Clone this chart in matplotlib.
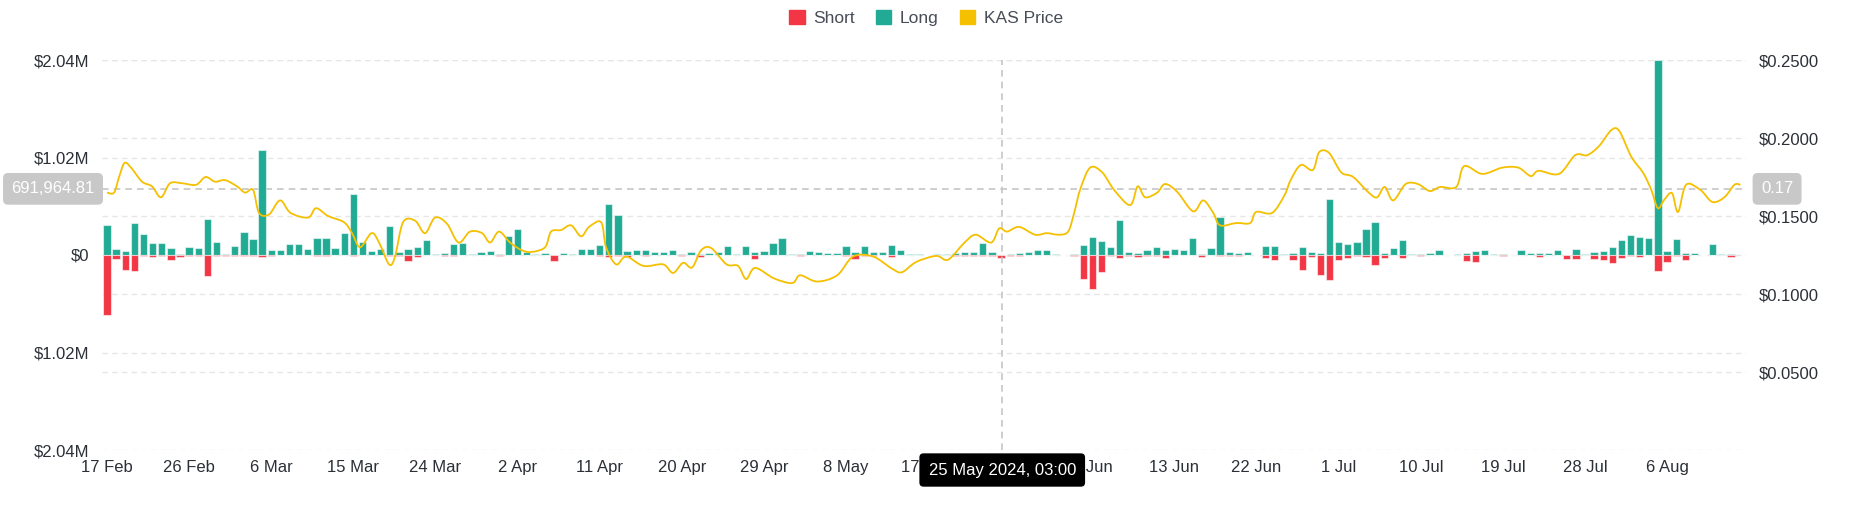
import numpy as np
import pandas as pd
import matplotlib
matplotlib.use('Agg')
import matplotlib.pyplot as plt
import matplotlib.dates as mdates
from matplotlib.patches import Patch, PathPatch
from matplotlib.path import Path
from matplotlib.transforms import blended_transform_factory

plt.rcParams['font.family'] = ['Liberation Sans', 'DejaVu Sans']

"Daily liquidations, in $k, starting 17 Feb 2024"
start = pd.Timestamp('2024-02-17')
long_k = [319, 62, 45, 333, 215, 125, 125, 69, 10, 83, 73, 378, 132, 10, 90, 236, 163, 1103, 52, 55,
          114, 111, 62, 180, 177, 73, 229, 642, 135, 45, 59, 302, 35, 66, 80, 153, 7, 21, 118, 128,
          10, 28, 38, 7, 194, 271, 35, 10, 17, 3, 17, 10, 62, 66, 108, 538, 423, 42, 52, 49,
          31, 31, 55, 10, 31, 10, 21, 28, 90, 7, 90, 31, 42, 128, 173, 10, 10, 38, 35, 21,
          24, 94, 28, 90, 28, 31, 100, 52, 14, 14, 3, 7, 14, 21, 28, 28, 125, 35, 3, 7,
          17, 31, 49, 55, 10, 0, 10, 104, 191, 146, 83, 371, 35, 21, 49, 83, 49, 66, 49, 180,
          10, 73, 399, 28, 21, 28, 3, 94, 94, 10, 21, 83, 31, 24, 583, 132, 111, 139, 274, 347,
          17, 73, 153, 7, 14, 21, 49, 0, 14, 24, 38, 49, 10, 10, 3, 52, 21, 21, 21, 52,
          0, 59, 7, 28, 42, 87, 153, 212, 191, 180, 2040, 42, 167, 21, 17, 3, 111, 10, 10]
short_k = [624, 42, 160, 170, 14, 24, 13, 49, 21, 14, 14, 222, 7, 10, 7, 7, 10, 21, 10, 4,
           4, 4, 4, 10, 10, 4, 4, 10, 4, 4, 4, 10, 14, 59, 21, 4, 4, 10, 10, 4,
           4, 4, 4, 10, 4, 4, 4, 4, 4, 59, 4, 4, 4, 4, 10, 17, 10, 17, 4, 10,
           4, 4, 4, 14, 4, 17, 4, 4, 4, 4, 4, 38, 4, 4, 4, 4, 10, 4, 4, 4,
           4, 14, 38, 14, 10, 4, 21, 4, 4, 4, 0, 0, 4, 14, 14, 14, 10, 7, 28, 14,
           7, 4, 4, 4, 4, 0, 14, 253, 357, 180, 14, 28, 10, 21, 10, 10, 28, 4, 4, 4,
           17, 4, 14, 14, 7, 4, 3, 31, 49, 4, 49, 160, 24, 205, 260, 49, 28, 10, 21, 104,
           35, 4, 35, 4, 10, 4, 4, 0, 4, 59, 69, 4, 4, 10, 3, 4, 4, 17, 4, 4,
           42, 45, 4, 42, 49, 87, 35, 10, 24, 4, 163, 73, 10, 49, 4, 3, 4, 4, 17]

"KAS price, time in days after 17 Feb 00:00"
price_day = [0.0, 0.77, 1.32, 1.92, 2.63, 3.84, 4.93, 5.92, 6.91, 8.22, 9.76, 10.8, 11.84, 12.94,
             14.25, 15.13, 16.01, 16.66, 17.76, 18.97, 20.12, 22.04, 22.91, 24.23, 25.98, 26.86,
             27.74, 29.0, 29.82, 30.92, 31.57, 32.45, 33.77, 34.86, 35.96, 37.27, 38.53, 39.79,
             41.11, 41.99, 42.97, 44.18, 45.49, 46.59, 48.02, 48.67, 49.77, 50.87, 51.96, 52.84,
             54.16, 54.7, 55.8, 56.9, 58.81, 60.95, 62.05, 63.14, 64.13, 65.12, 66.21, 67.91,
             69.17, 70.05, 71.04, 73.12, 75.1, 75.97, 77.83, 80.03, 81.78, 83.97, 86.11, 87.15,
             88.69, 90.88, 92.19, 93.95, 95.21, 96.91, 97.79, 98.66, 99.98, 101.73, 103.0, 104.31,
             105.35, 106.01, 106.67, 107.76, 109.08, 110.39, 112.15, 112.97, 113.79, 115.11,
             115.98, 117.3, 119.05, 120.15, 121.25, 122.01, 123.77, 125.3, 125.96, 127.71,
             129.08, 129.74, 130.85, 132.17, 132.87, 133.96, 135.28, 136.59, 138.35, 139.22,
             140.05, 140.98, 142.35, 143.68, 145.0, 146.13, 147.89, 148.76, 150.74, 152.93,
             154.69, 156.06, 156.93, 159.15, 160.93, 162.25, 163.57, 164.88, 165.76, 167.08,
             168.39, 169.27, 169.98, 170.64, 171.53, 172.2, 173.08, 174.65, 175.97, 177.28,
             178.38, 179.04]
price = [0.165, 0.165, 0.175, 0.184, 0.181, 0.172, 0.169, 0.162, 0.171, 0.171, 0.170, 0.175, 0.172,
         0.173, 0.169, 0.165, 0.1667, 0.152, 0.151, 0.160, 0.152, 0.149, 0.155, 0.150, 0.146, 0.139,
         0.130, 0.139, 0.133, 0.119, 0.124, 0.146, 0.147, 0.139, 0.149, 0.145, 0.133, 0.140, 0.139,
         0.133, 0.140, 0.133, 0.128, 0.127, 0.130, 0.140, 0.141, 0.144, 0.137, 0.143, 0.146, 0.130,
         0.119, 0.124, 0.118, 0.119, 0.1135, 0.120, 0.117, 0.128, 0.1295, 0.119, 0.118, 0.1096,
         0.1167, 0.110, 0.107, 0.112, 0.108, 0.112, 0.124, 0.124, 0.116, 0.114, 0.1205, 0.1244,
         0.122, 0.1327, 0.138, 0.133, 0.142, 0.140, 0.143, 0.138, 0.139, 0.138, 0.140, 0.152, 0.167,
         0.181, 0.178, 0.1667, 0.157, 0.169, 0.162, 0.165, 0.1705, 0.1655, 0.153, 0.160, 0.152,
         0.144, 0.1455, 0.1455, 0.1526, 0.152, 0.1635, 0.173, 0.1827, 0.1795, 0.191, 0.1904, 0.178,
         0.175, 0.1647, 0.162, 0.1686, 0.160, 0.1705, 0.1705, 0.166, 0.1686, 0.1686, 0.182, 0.177,
         0.181, 0.181, 0.1756, 0.179, 0.177, 0.189, 0.189, 0.195, 0.205, 0.2045, 0.188, 0.1775,
         0.1667, 0.155, 0.160, 0.1647, 0.1526, 0.170, 0.1667, 0.159, 0.162, 0.170, 0.170]

tick_labels = ['17 Feb', '26 Feb', '6 Mar', '15 Mar', '24 Mar', '2 Apr', '11 Apr', '20 Apr',
               '29 Apr', '8 May', '17 May', '26 May', '4 Jun', '13 Jun', '22 Jun', '1 Jul',
               '10 Jul', '19 Jul', '28 Jul', '6 Aug']
left_ticks = [-2.04e6, -1.02e6, 0, 1.02e6, 2.04e6]
left_labels = ['$2.04M', '$1.02M', '$0', '$1.02M', '$2.04M']
right_ticks = [0.05, 0.10, 0.15, 0.20, 0.25]
right_labels = ['$0.0500', '$0.1000', '$0.1500', '$0.2000', '$0.2500']

cross_time = pd.Timestamp('2024-05-25 03:00')
cross_left = 691964.81
cross_right = '0.17'

RED = '#F23645'
TEAL = '#22AB94'
GOLD = '#F5C000'
GRID = '#e6e6e6'
TXT = '#2b2f36'


def smooth_path(x, y, t=1 / 6.0):
    "Catmull-Rom curve through the points, as cubic Bezier segments"
    x = np.asarray(x, float)
    y = np.asarray(y, float)
    verts = [(x[0], y[0])]
    codes = [Path.MOVETO]
    n = len(x)
    for i in range(n - 1):
        i0, i2, i3 = max(i - 1, 0), i + 1, min(i + 2, n - 1)
        c1 = (x[i] + (x[i2] - x[i0]) * t, y[i] + (y[i2] - y[i0]) * t)
        c2 = (x[i2] - (x[i3] - x[i]) * t, y[i2] - (y[i3] - y[i]) * t)
        verts += [c1, c2, (x[i2], y[i2])]
        codes += [Path.CURVE4] * 3
    return Path(verts, codes)


dates = pd.date_range(start, periods=len(long_k), freq='D')
longs = np.array(long_k) * 1000.0
shorts = -np.array(short_k) * 1000.0
ptimes = start + pd.to_timedelta(price_day, unit='D')
ticks = pd.date_range(start, periods=len(tick_labels), freq='9D')

fig = plt.figure(figsize=(18.52, 5.25), dpi=100)
ax = fig.add_axes([102 / 1852, 75 / 525, 1644 / 1852, 390 / 525])
ax2 = ax.twinx()

ax.set_xlim(start - pd.Timedelta(days=0.55), start + pd.Timedelta(days=179.65))
ax.set_ylim(-2.04e6, 2.04e6)
ax2.set_ylim(0, 0.25)

# grid lines (both scales) kept below the bars
ax.set_axisbelow(True)
ax.yaxis.grid(True, color=GRID, linestyle=(0, (4, 3)), linewidth=1.0)
tr = blended_transform_factory(ax.transAxes, ax2.transData)
for v in right_ticks:
    ax.plot([0, 1], [v, v], transform=tr, color=GRID, linestyle=(0, (4, 3)),
            linewidth=1.0, zorder=0.5)

# crosshair
ax.axhline(cross_left, color='#c6c6c6', linestyle=(0, (4, 3)), linewidth=1.2, zorder=1)
ax.axvline(cross_time, color='#c6c6c6', linestyle=(0, (4, 3)), linewidth=1.2, zorder=3)

ax.bar(dates, longs, width=0.8, color=TEAL, edgecolor=(1, 1, 1, 0.55), linewidth=0.8, zorder=2)
ax.bar(dates, shorts, width=0.8, color=RED, edgecolor=(1, 1, 1, 0.55), linewidth=0.8, zorder=2)

ax2.add_patch(PathPatch(smooth_path(mdates.date2num(ptimes), price), fill=False,
                        edgecolor=GOLD, linewidth=1.3, zorder=3))

ax.set_xticks(ticks)
ax.set_xticklabels(tick_labels)
ax.set_yticks(left_ticks)
ax.set_yticklabels(left_labels)
ax2.set_yticks(right_ticks)
ax2.set_yticklabels(right_labels)
ax.tick_params(axis='x', length=0, pad=7, labelsize=12, labelcolor=TXT)
ax.tick_params(axis='y', length=0, pad=9, labelsize=12, labelcolor=TXT)
ax2.tick_params(axis='y', length=0, pad=9, labelsize=12, labelcolor=TXT)
for a in (ax, ax2):
    for s in a.spines.values():
        s.set_visible(False)

# value boxes on the crosshair
ltr = blended_transform_factory(ax.transAxes, ax.transData)
ax2.text(-0.0298, cross_left, f'{cross_left:,.2f}', transform=ltr, ha='center', va='center',
         fontsize=12, color='white', clip_on=False, zorder=5,
         bbox=dict(boxstyle='round,pad=0.5,rounding_size=0.3', fc='#c8c8c8', ec='none'))
ax2.text(1.0189, cross_left, cross_right, transform=ltr, ha='center', va='center',
         fontsize=12, color='white', clip_on=False, zorder=5,
         bbox=dict(boxstyle='round,pad=0.5,rounding_size=0.3', fc='#c8c8c8', ec='none'))
btr = blended_transform_factory(ax.transData, ax.transAxes)
ax2.text(cross_time, -0.0513, cross_time.strftime('%-d %b %Y, %H:%M'), transform=btr,
         ha='center', va='center', fontsize=12, color='white', clip_on=False, zorder=6,
         bbox=dict(boxstyle='round,pad=0.55,rounding_size=0.25', fc='black', ec='none'))

handles = [Patch(color=RED), Patch(color=TEAL), Patch(color=GOLD)]
fig.legend(handles, ['Short', 'Long', 'KAS Price'], loc='center', bbox_to_anchor=(0.5, 0.966),
           ncol=3, frameon=False, fontsize=12.5, handlelength=0.9, handleheight=0.9,
           handletextpad=0.5, columnspacing=1.2, labelcolor='#474d57')

fig.savefig('out.png', dpi=100)
